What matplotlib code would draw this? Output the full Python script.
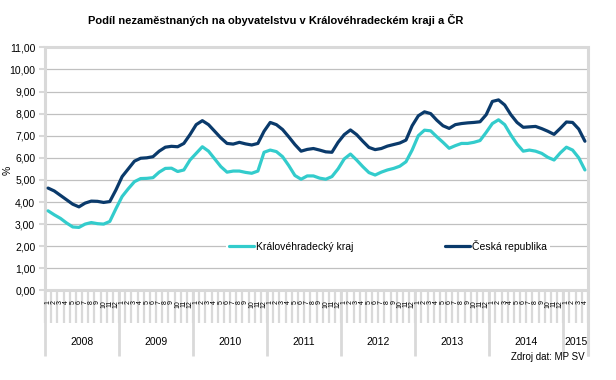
import matplotlib
matplotlib.use('Agg')
import matplotlib.pyplot as plt
from matplotlib import font_manager
from matplotlib.transforms import blended_transform_factory
import numpy as np

# ---------------- data ----------------
years = ['2008', '2009', '2010', '2011', '2012', '2013', '2014', '2015']
months_per_year = [12, 12, 12, 12, 12, 12, 12, 4]
month_labels = [str(m) for n in months_per_year for m in range(1, n + 1)]

kralovehradecky = [
    3.60, 3.42, 3.26, 3.05, 2.87, 2.85, 3.00, 3.07, 3.02, 3.00, 3.12, 3.70,
    4.25, 4.60, 4.92, 5.06, 5.07, 5.10, 5.35, 5.52, 5.53, 5.38, 5.45, 5.90,
    6.20, 6.50, 6.30, 5.95, 5.60, 5.35, 5.40, 5.40, 5.34, 5.30, 5.40, 6.25,
    6.35, 6.28, 6.05, 5.65, 5.20, 5.03, 5.18, 5.18, 5.08, 5.03, 5.15, 5.50,
    5.95, 6.17, 5.90, 5.60, 5.33, 5.22, 5.35, 5.45, 5.52, 5.62, 5.82, 6.35,
    7.00, 7.25, 7.22, 6.95, 6.70, 6.43, 6.55, 6.65, 6.65, 6.70, 6.78, 7.15,
    7.55, 7.72, 7.50, 7.03, 6.62, 6.30, 6.35, 6.30, 6.20, 6.02, 5.90, 6.22,
    6.48, 6.35, 6.00, 5.45,
]
ceska_republika = [
    4.63, 4.50, 4.30, 4.10, 3.90, 3.78, 3.95, 4.04, 4.03, 3.98, 4.02, 4.55,
    5.15, 5.50, 5.85, 5.98, 6.00, 6.05, 6.30, 6.48, 6.52, 6.50, 6.65, 7.05,
    7.50, 7.68, 7.50, 7.20, 6.90, 6.65, 6.62, 6.70, 6.63, 6.58, 6.65, 7.20,
    7.60, 7.50, 7.28, 6.95, 6.60, 6.30, 6.38, 6.42, 6.35, 6.27, 6.25, 6.70,
    7.05, 7.26, 7.05, 6.75, 6.47, 6.37, 6.42, 6.53, 6.60, 6.67, 6.80, 7.45,
    7.90, 8.08, 8.00, 7.70, 7.45, 7.33, 7.50, 7.55, 7.58, 7.60, 7.63, 7.95,
    8.55, 8.62, 8.39, 7.95, 7.60, 7.38, 7.40, 7.42, 7.32, 7.20, 7.06, 7.33,
    7.62, 7.60, 7.30, 6.75,
]
series_names = ['Královéhradecký kraj', 'Česká republika']
title = 'Podíl nezaměstnaných na obyvatelstvu v Královéhradeckém kraji a ČR'
y_ticks = list(range(0, 12))

# ---------------- style ----------------
available = {f.name for f in font_manager.fontManager.ttflist}
base_font = 'Liberation Sans' if 'Liberation Sans' in available else 'DejaVu Sans'
plt.rcParams['font.family'] = [base_font, 'DejaVu Sans']

W, H = 616, 380
fig = plt.figure(figsize=(W / 100, H / 100), dpi=100)
left_px, right_px, top_px, bottom_px = 45, 588, 47.3, 290.4
ax = fig.add_axes([left_px / W, 1 - bottom_px / H,
                   (right_px - left_px) / W, (bottom_px - top_px) / H])

x = np.arange(len(month_labels))
dark = '#0a3a6b'
teal = '#33cccc'
grid_c = '#c0c0c0'
axis_c = '#d9d9d9'

ax.plot(x, kralovehradecky, color=teal, lw=2.3, label=series_names[0],
        solid_joinstyle='round', solid_capstyle='round', zorder=3)
ax.plot(x, ceska_republika, color=dark, lw=2.3, label=series_names[1],
        solid_joinstyle='round', solid_capstyle='round', zorder=3)

ax.set_xlim(-0.5, len(x) - 0.5)
ax.set_ylim(0, 11)
ax.set_yticks(y_ticks)
ax.set_yticklabels([f'{v:.2f}'.replace('.', ',') for v in y_ticks], fontsize=7.5)
ax.tick_params(axis='y', length=4, width=1.5, color=axis_c, pad=3, labelcolor='#000000')
ax.set_xticks([])
ax.yaxis.grid(True, color=grid_c, lw=0.9)
ax.set_axisbelow(True)

for s in ['left', 'bottom', 'top']:
    ax.spines[s].set_color(axis_c)
    ax.spines[s].set_linewidth(2.2)
ax.spines['right'].set_visible(False)

fig.text(8 / W, 1 - 170 / H, '%', rotation=90, ha='center', va='center', fontsize=7.5)

# category axis (multi-level)
tr = blended_transform_factory(ax.transData, ax.transAxes)
ax_h = bottom_px - top_px
cat_low = -(323 - bottom_px) / ax_h
year_low = -(356 - bottom_px) / ax_h
bounds = np.arange(len(x) + 1) - 0.5
ax.vlines(bounds, cat_low, 0, transform=tr, colors=axis_c, lw=1.6, clip_on=False, zorder=1)
ycum = np.concatenate([[0], np.cumsum(months_per_year)]) - 0.5
ax.vlines(ycum, year_low, 0, transform=tr, colors=axis_c, lw=2.0, clip_on=False, zorder=1)
ax.vlines([ycum[-1]], year_low, 1, transform=tr, colors=axis_c, lw=2.2, clip_on=False, zorder=1)

for i, lab in enumerate(month_labels):
    ax.text(i, -(300 - bottom_px) / ax_h, lab, transform=tr, rotation=90,
            ha='center', va='top', fontsize=5, color='#000000', clip_on=False)
for k, yr in enumerate(years):
    ax.text((ycum[k] + ycum[k + 1]) / 2, -(342 - bottom_px) / ax_h, yr, transform=tr,
            ha='center', va='center', fontsize=7.5, color='#000000', clip_on=False)

leg = ax.legend(loc='center', bbox_to_anchor=(388 / W, 1 - 246 / H),
                bbox_transform=fig.transFigure, ncol=2, fontsize=7.5,
                frameon=True, facecolor='white', edgecolor='none', framealpha=1,
                handlelength=2.4, handletextpad=0.15, columnspacing=8.8,
                borderpad=0.3, fancybox=False)
leg.set_zorder(5)

fig.text(276 / W, 1 - 20 / H, title, ha='center', va='center', fontsize=8,
         fontweight='bold')
fig.text(585 / W, 1 - 357 / H, 'Zdroj dat: MP SV', ha='right', va='center', fontsize=7)

fig.savefig('out.png', dpi=100, facecolor='white')
